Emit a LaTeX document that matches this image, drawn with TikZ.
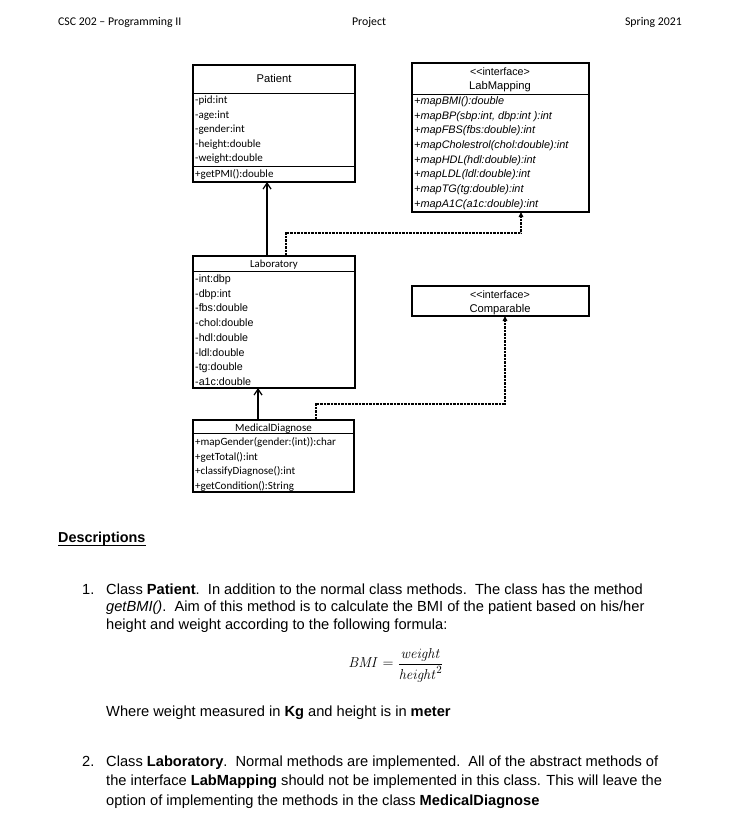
\documentclass[tikz,border=0pt]{standalone}
\usepackage{amsmath}
\usepackage[no-math]{fontspec}
\setmainfont{Liberation Sans}
\newfontfamily\calib{Carlito}
\usetikzlibrary{arrows.meta}
\begin{document}
\begin{tikzpicture}[x=1pt,y=-1pt,
  umlbox/.style={draw, line width=1.5pt, anchor=north west, inner sep=0pt, outer sep=0pt},
  sepline/.style={line width=0.8pt},
  itm/.style={anchor=base west, inner sep=0pt},
  ttl/.style={anchor=base, inner sep=0pt},
  calitem/.style={itm, font=\calib\fontsize{11}{12}\selectfont},
  aritem/.style={itm, font=\fontsize{10.7}{12}\selectfont},
  italitem/.style={itm, font=\itshape\fontsize{10.9}{12}\selectfont},
  gen/.style={line width=1.4pt, -{Straight Barb[length=6pt,width=8pt,line width=1.2pt]}},
  real/.style={line width=1.2pt, dash pattern=on 0.7pt off 0.7pt, -{Triangle[length=5pt,width=4.5pt]}},
  hdr/.style={inner sep=0pt, font=\calib\fontsize{11.8}{13}\selectfont},
  body/.style={anchor=base west, inner sep=0pt, font=\fontsize{14.65}{17}\selectfont}
]
\useasboundingbox (0,0) rectangle (735,821);
\fill[white] (0,0) rectangle (735,821);

% header
\node[hdr, anchor=base west] (h1) at (58,26) {CSC 202 – Programming II};
\node[hdr, anchor=base] (h2) at (369,26) {Project};
\node[hdr, anchor=base east] (h3) at (682,26) {Spring 2021};

% Patient
\node[umlbox, minimum width=162pt, minimum height=117pt] (patient) at (193,65) {};
\draw[sepline] (193,93) -- (355,93);
\draw[sepline] (193,166) -- (355,166);
\node[ttl, font=\fontsize{11.2}{13}\selectfont] (pt) at (274,83) {Patient};
\node[calitem] (p1) at (195,104) {-pid:int};
\node[calitem] (p2) at (195,118.5) {-age:int};
\node[calitem] (p3) at (195,133) {-gender:int};
\node[calitem] (p4) at (195,147.5) {-height:double};
\node[calitem] (p5) at (195,162) {-weight:double};
\node[calitem] (p6) at (195,177.5) {+getPMI():double};

% LabMapping
\node[umlbox, minimum width=177pt, minimum height=149pt] (labmap) at (412,63) {};
\draw[sepline] (412,94) -- (589,94);
\node[ttl, font=\fontsize{10.7}{12}\selectfont] (lm1) at (500,76) {<\kern0pt<interface>};
\node[ttl, font=\fontsize{11.2}{13}\selectfont] (lm2) at (500,90) {LabMapping};
\node[italitem] (m1) at (414,104.5) {+mapBMI():double};
\node[italitem] (m2) at (414,119.2) {+mapBP(sbp:int, dbp:int ):int};
\node[italitem] (m3) at (414,133.9) {+mapFBS(fbs:double):int};
\node[italitem] (m4) at (414,148.6) {+mapCholestrol(chol:double):int};
\node[italitem] (m5) at (414,163.3) {+mapHDL(hdl:double):int};
\node[italitem] (m6) at (414,178) {+mapLDL(ldl:double):int};
\node[italitem] (m7) at (414,192.7) {+mapTG(tg:double):int};
\node[italitem] (m8) at (414,207.4) {+mapA1C(a1c:double):int};

% Laboratory
\node[umlbox, minimum width=162pt, minimum height=132pt] (lab) at (193,256) {};
\draw[sepline] (193,271) -- (355,271);
\node[ttl, font=\calib\fontsize{10.8}{12}\selectfont] (lt) at (274,267.5) {Laboratory};
\node[aritem] (l1) at (195,282.5) {-int:dbp};
\node[aritem] (l2) at (195,297.2) {-dbp:int};
\node[aritem] (l3) at (195,311.9) {-fbs:double};
\node[aritem] (l4) at (195,326.6) {-chol:double};
\node[aritem] (l5) at (195,341.3) {-hdl:double};
\node[aritem] (l6) at (195,356) {-ldl:double};
\node[aritem] (l7) at (195,370.7) {-tg:double};
\node[aritem] (l8) at (195,385.4) {-a1c:double};

% Comparable
\node[umlbox, minimum width=177pt, minimum height=30pt] (comp) at (412,286) {};
\node[ttl, font=\fontsize{10.7}{12}\selectfont] (c1) at (500,298) {<\kern0pt<interface>};
\node[ttl, font=\fontsize{11.2}{13}\selectfont] (c2) at (500,312.5) {Comparable};

% MedicalDiagnose
\node[umlbox, minimum width=161pt, minimum height=72pt] (md) at (193,420) {};
\draw[sepline] (193,433.5) -- (354,433.5);
\node[ttl, font=\calib\fontsize{11}{12}\selectfont] (mdt) at (273.5,431) {MedicalDiagnose};
\node[calitem] (d1) at (195,445.5) {+mapGender(gender:(int)):char};
\node[calitem] (d2) at (195,460) {+getTotal():int};
\node[calitem] (d3) at (195,474.5) {+classifyDiagnose():int};
\node[calitem] (d4) at (195,489.5) {+getCondition():String};

% connectors
\draw[gen] ([xshift=74pt]lab.north west) -- ([xshift=74pt]patient.south west);
\draw[real] ([xshift=93pt]lab.north west) -- ++(0,-23) -| ([xshift=109pt]labmap.south west);
\draw[gen] ([xshift=65pt]md.north west) -- ([xshift=65pt]lab.south west);
\draw[real] ([xshift=123pt]md.north west) -- ++(0,-16) -| ([xshift=93pt]comp.south west);

% descriptions
\node[body, font=\bfseries\fontsize{14.4}{17}\selectfont] (desc) at (58,542) {Descriptions};
\draw[line width=1pt] (58,545) -- (145.5,545);

\node[body] (n1) at (82,594) {1.};
\node[body] (t11) at (106,594) {Class \textbf{Patient}.\ \ In addition to the normal class methods.\ \ The class has the method};
\node[body] (t12) at (106,611.5) {\textit{getBMI()}.\ \ Aim of this method is to calculate the BMI of the patient based on his/her};
\node[body] (t13) at (106,629) {height and weight according to the following formula:};
\node[inner sep=0pt, font=\fontsize{15}{18}\selectfont] (formula) at (396,665) {$\mathit{BMI} = \dfrac{\mathit{weight}}{\mathit{height}^2}$};
\node[body] (t14) at (106,716) {Where weight measured in \textbf{Kg} and height is in \textbf{meter}};

\node[body] (n2) at (82,766) {2.};
\node[body] (t21) at (106,766) {Class \textbf{Laboratory}.\ \ Normal methods are implemented.\ \ All of the abstract methods of};
\node[body] (t22) at (106,785.5) {the interface \textbf{LabMapping} should not be implemented in this class. This will leave the};
\node[body] (t23) at (106,805) {option of implementing the methods in the class \textbf{MedicalDiagnose}};
\end{tikzpicture}
\end{document}
